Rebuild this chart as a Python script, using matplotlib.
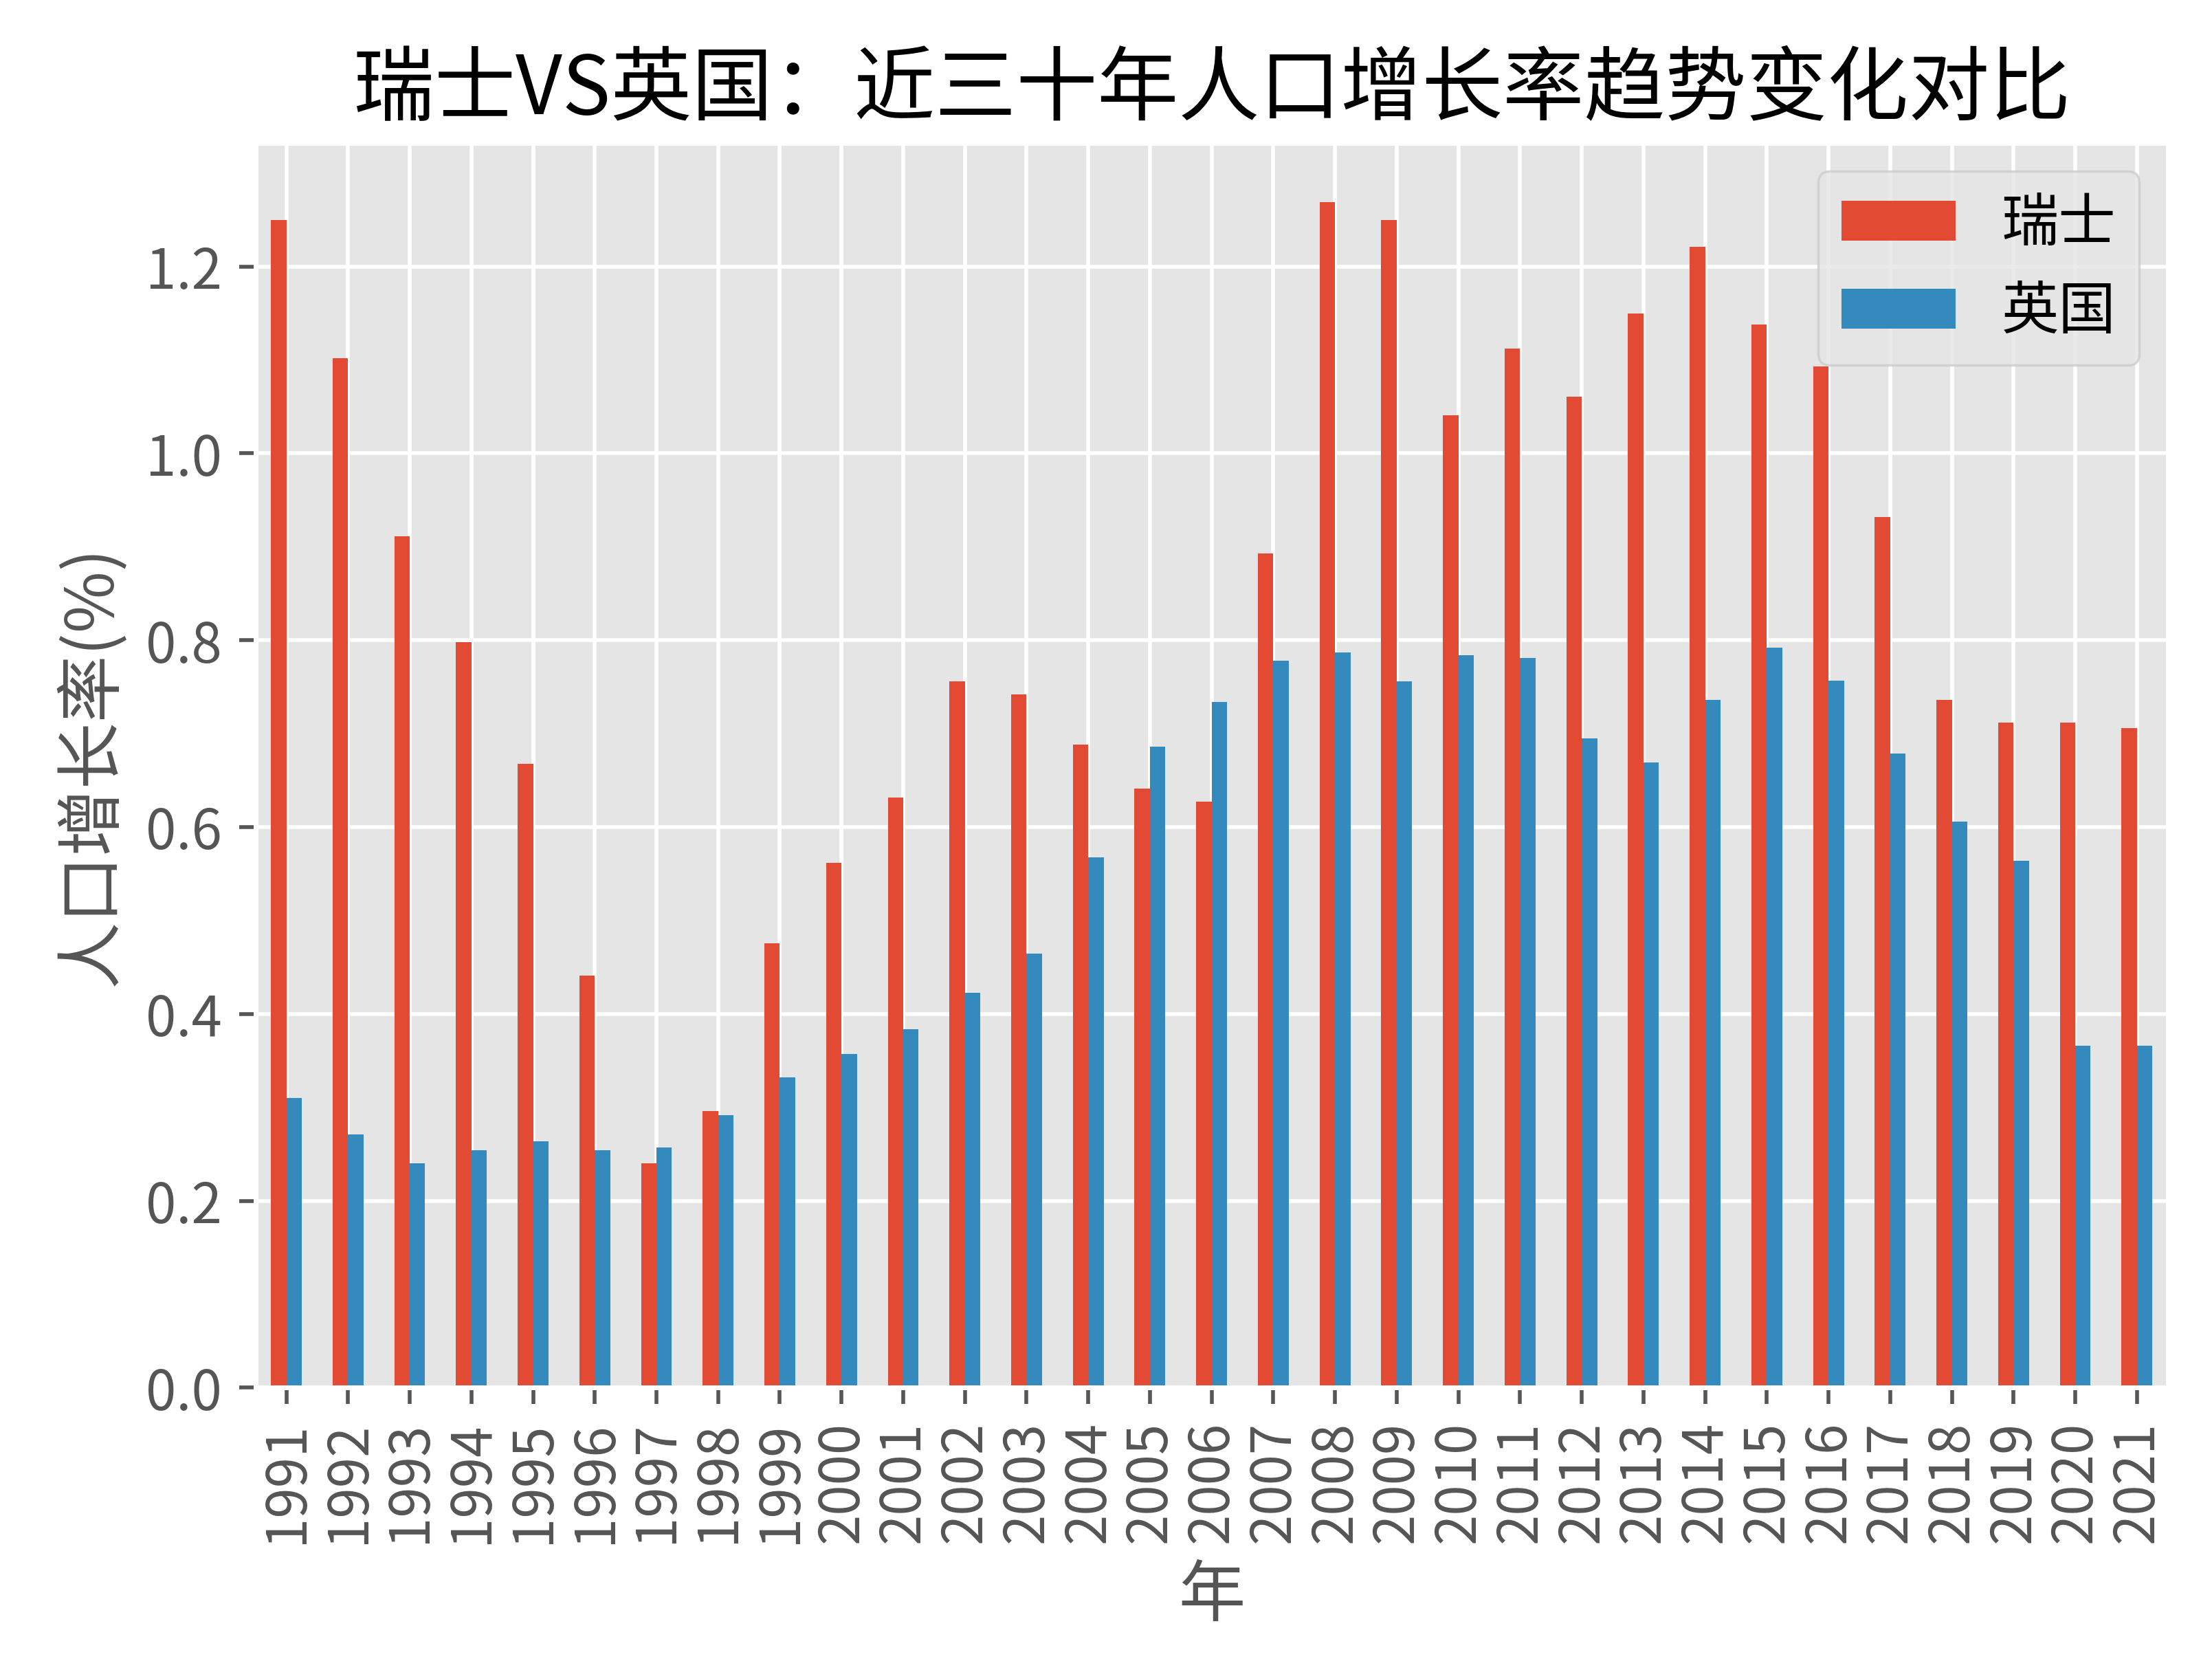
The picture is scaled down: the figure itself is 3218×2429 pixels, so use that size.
import numpy as np
import matplotlib
matplotlib.use("Agg")
import matplotlib.pyplot as plt

years = list(range(1991, 2022))
swiss = [1.250, 1.102, 0.911, 0.798, 0.668, 0.441, 0.240, 0.296, 0.476, 0.562,
         0.632, 0.756, 0.742, 0.688, 0.641, 0.627, 0.893, 1.269, 1.250, 1.041,
         1.112, 1.061, 1.150, 1.221, 1.138, 1.093, 0.932, 0.736, 0.712, 0.712,
         0.706]
uk = [0.310, 0.271, 0.240, 0.254, 0.264, 0.254, 0.257, 0.292, 0.332, 0.357,
      0.384, 0.423, 0.465, 0.568, 0.686, 0.734, 0.778, 0.787, 0.756, 0.784,
      0.781, 0.695, 0.669, 0.736, 0.792, 0.757, 0.679, 0.606, 0.564, 0.366,
      0.366]

plt.style.use('ggplot')
plt.rcParams['font.family'] = ['Noto Sans CJK SC', 'DejaVu Sans']
plt.rcParams['axes.unicode_minus'] = False

fig = plt.figure(figsize=(6.436, 4.858), dpi=500)
ax = fig.add_axes([0.1155, 0.169, 0.8645, 0.7455])

x = np.arange(len(years))
w = 0.25
ax.bar(x - w / 2, swiss, w, label='瑞士', color='#E24A33')
ax.bar(x + w / 2, uk, w, label='英国', color='#348ABD')

ax.set_xlim(-0.5, len(years) - 0.5)
ax.set_xticks(x)
ax.set_xticklabels([str(y) for y in years], rotation=90, fontsize=11.5)
ax.tick_params(axis='y', labelsize=11.5)
ax.set_yticks([0.0, 0.2, 0.4, 0.6, 0.8, 1.0, 1.2])
ax.set_yticklabels(['0.0', '0.2', '0.4', '0.6', '0.8', '1.0', '1.2'])

ax.set_title('瑞士VS英国：近三十年人口增长率趋势变化对比', fontsize=17, color='black')
ax.set_xlabel('年', fontsize=14, color='#555555')
ax.set_ylabel('人口增长率(%)', fontsize=14, color='#555555')
ax.legend(loc='upper right', fontsize=12)

plt.savefig('out.png', dpi=500)
